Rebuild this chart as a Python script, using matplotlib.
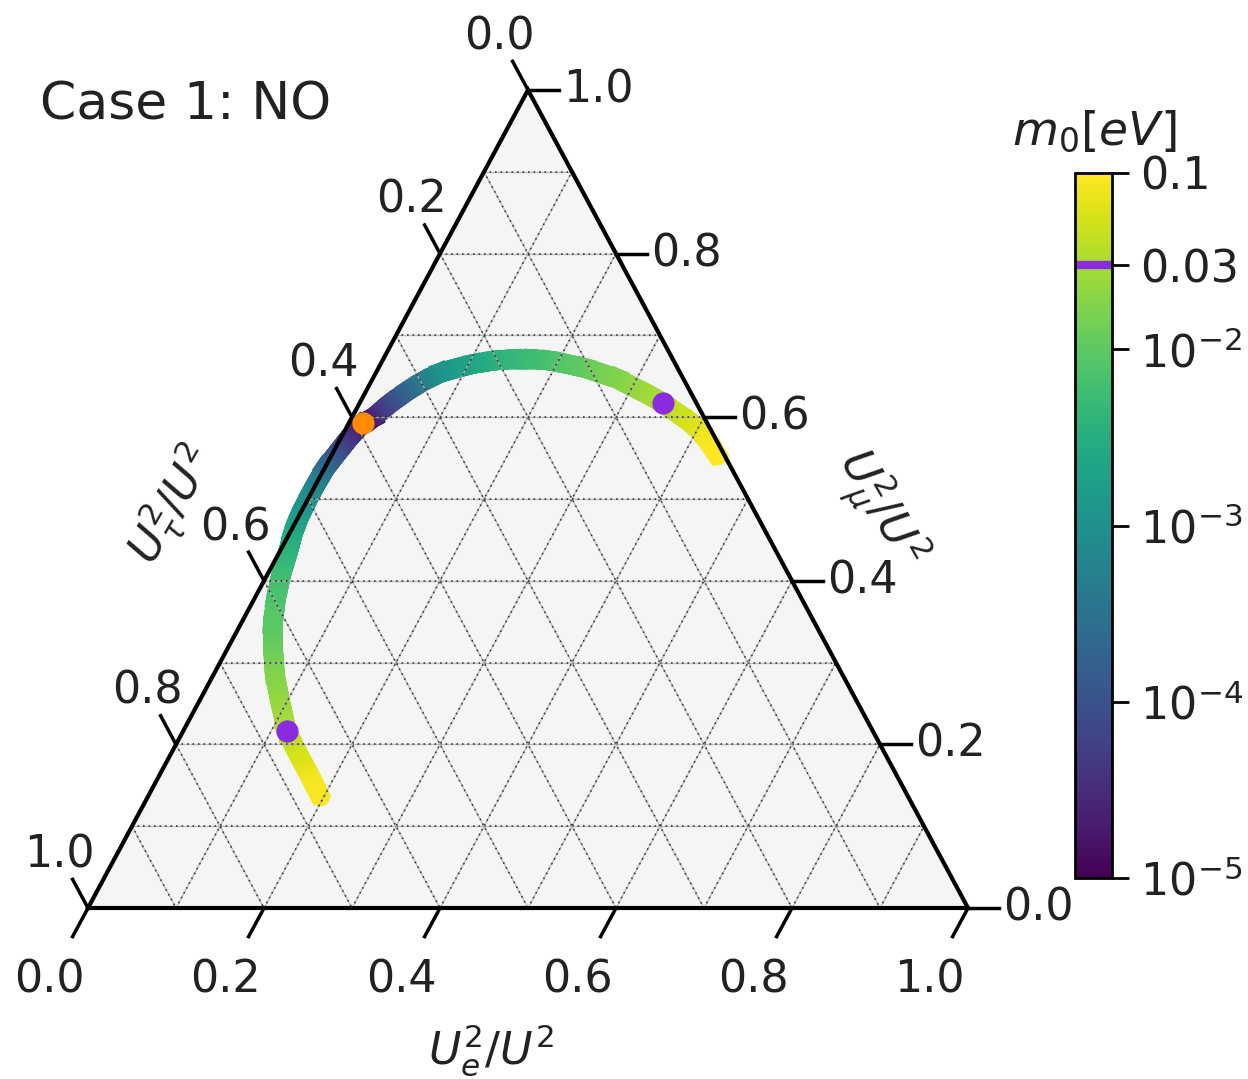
import numpy as np
import matplotlib
matplotlib.use("Agg")
import matplotlib.pyplot as plt
from matplotlib.collections import LineCollection
from matplotlib.colors import LogNorm
import matplotlib as mpl

# ---------------- data (ternary fractions U_e^2/U^2, U_mu^2/U^2; tau = 1 - e - mu) ----------------
branch_a_e = [0.016, 0.024, 0.035, 0.047, 0.059, 0.073, 0.089, 0.105, 0.126, 0.147, 0.170, 0.191,
              0.212, 0.235, 0.255, 0.278, 0.301, 0.322, 0.345, 0.369, 0.387, 0.405, 0.420, 0.439]
branch_a_mu = [0.593, 0.599, 0.617, 0.632, 0.644, 0.654, 0.660, 0.665, 0.669, 0.671, 0.671, 0.669,
               0.665, 0.660, 0.654, 0.647, 0.637, 0.628, 0.617, 0.604, 0.594, 0.582, 0.570, 0.553]
branch_a_m0 = [1e-5, 1.3e-5, 5e-5, 1.3e-4, 3.2e-4, 8e-4, 1.3e-3, 2e-3, 2.8e-3, 4e-3, 5e-3, 6.3e-3,
               8e-3, 1e-2, 1.25e-2, 1.6e-2, 2e-2, 2.5e-2, 3e-2, 4e-2, 5e-2, 6.3e-2, 8e-2, 0.1]

branch_b_e = [0.016, 0.010, 0.005, 0.001, 0.000, 0.000, 0.001, 0.004, 0.009, 0.016, 0.025, 0.037,
              0.053, 0.070, 0.091, 0.118, 0.142, 0.168, 0.196]
branch_b_mu = [0.593, 0.576, 0.556, 0.538, 0.518, 0.499, 0.478, 0.458, 0.438, 0.407, 0.377, 0.346,
               0.315, 0.285, 0.254, 0.216, 0.191, 0.165, 0.136]
branch_b_m0 = [1e-5, 2.5e-5, 6.3e-5, 1.6e-4, 4e-4, 8e-4, 1.3e-3, 2e-3, 3.2e-3, 5e-3, 7e-3, 9e-3,
               1.1e-2, 1.6e-2, 2.1e-2, 3e-2, 4.5e-2, 6.6e-2, 0.1]

# marked points
mark_m0_value = 0.03
mark_e = [0.345, 0.118]
mark_mu = [0.617, 0.216]
zero_e = [0.016]
zero_mu = [0.593]

tick_values = [0.0, 0.2, 0.4, 0.6, 0.8, 1.0]
grid_values = [0.1, 0.2, 0.3, 0.4, 0.5, 0.6, 0.7, 0.8, 0.9]
cbar_ticks = [1e-5, 1e-4, 1e-3, 1e-2, 0.03, 0.1]
cbar_ticklabels = ["$10^{-5}$", "$10^{-4}$", "$10^{-3}$", "$10^{-2}$", "0.03", "0.1"]
m0_min, m0_max = 1e-5, 0.1

title = "Case 1: NO"
bottom_label = "$U_e^2/U^2$"
right_label = r"$U_\mu^2/U^2$"
left_label = r"$U_\tau^2/U^2$"
cbar_label = "$m_0[eV]$"

# ---------------- helpers ----------------
S3 = np.sqrt(3) / 2


def proj(e, mu):
    e = np.asarray(e, dtype=float)
    mu = np.asarray(mu, dtype=float)
    return e + mu / 2.0, mu * S3


W, H = 1248, 1079
fig = plt.figure(figsize=(W / 100, H / 100), dpi=100)
ax = fig.add_axes([88 / W, (H - 908) / H, 880 / W, 818 / H])
ax.set_xlim(0, 1)
ax.set_ylim(0, S3)
ax.axis("off")

FS = 32
TXT = "#222222"

# background
bx, by = proj([0, 1, 0], [0, 0, 1])
ax.fill(bx, by, color="whitesmoke", zorder=0)

# curve branches (each polyline segment drawn as a short colour gradient)
norm = LogNorm(vmin=m0_min, vmax=m0_max)
cmap = plt.get_cmap("viridis")
NSUB = 6
for be, bmu, bm in [(branch_a_e, branch_a_mu, branch_a_m0), (branch_b_e, branch_b_mu, branch_b_m0)]:
    x, y = proj(be, bmu)
    lm = np.log10(np.asarray(bm))
    segs, cvals = [], []
    for i in range(len(x) - 1):
        t = np.linspace(0, 1, NSUB + 1)
        sx = x[i] + (x[i + 1] - x[i]) * t
        sy = y[i] + (y[i + 1] - y[i]) * t
        sl = lm[i] + (lm[i + 1] - lm[i]) * t
        for k in range(NSUB):
            segs.append([(sx[k], sy[k]), (sx[k + 1], sy[k + 1])])
            cvals.append(10 ** (0.5 * (sl[k] + sl[k + 1])))
    cvals = np.asarray(cvals)
    # end pieces with round caps
    lc_end = LineCollection([segs[0], segs[-1]], cmap=cmap, norm=norm, linewidths=14,
                            capstyle="round", zorder=2)
    lc_end.set_array(cvals[[0, -1]])
    ax.add_collection(lc_end)
    lc = LineCollection(segs[1:-1], cmap=cmap, norm=norm, linewidths=14, capstyle="projecting",
                        joinstyle="round", zorder=2)
    lc.set_array(cvals[1:-1])
    ax.add_collection(lc)

# grid lines
for g in grid_values:
    lines = [
        proj([0, 1 - g], [g, g]),          # constant mu (horizontal)
        proj([g, g], [0, 1 - g]),          # constant e
        proj([0, 1 - g], [1 - g, 0]),      # constant tau
    ]
    for lx, ly in lines:
        ax.plot(lx, ly, color="#b0b0b0", lw=1.0, alpha=0.8, zorder=3)
        ax.plot(lx, ly, color="black", lw=1.2, dashes=(1, 2.3), alpha=0.7, zorder=3)

# boundary
bx2, by2 = proj([0, 1, 0, 0], [0, 0, 1, 0])
ax.plot(bx2, by2, color="black", lw=3.0, zorder=4, solid_joinstyle="miter", clip_on=False)

# ticks and labels
d_tick = 0.035
for v in tick_values:
    # bottom axis (e)
    x0, y0 = proj(v, 0)
    x1, y1 = proj(v, -d_tick)
    ax.plot([x0, x1], [y0, y1], color="black", lw=2.5, clip_on=False, zorder=4)
    xl, yl = proj(v, -0.088)
    ax.text(xl, yl, f"{v:.1f}", fontsize=FS, ha="center", va="center", color=TXT, clip_on=False)
    # right axis (mu)
    x0, y0 = proj(1 - v, v)
    x1, y1 = proj(1 - v + d_tick, v)
    ax.plot([x0, x1], [y0, y1], color="black", lw=2.5, clip_on=False, zorder=4)
    xl, yl = proj(1 - v + 0.08, v)
    ax.text(xl, yl, f"{v:.1f}", fontsize=FS, ha="center", va="center", color=TXT, clip_on=False)
    # left axis (tau)
    x0, y0 = proj(0, 1 - v)
    x1, y1 = proj(-d_tick, 1 - v + d_tick)
    ax.plot([x0, x1], [y0, y1], color="black", lw=2.5, clip_on=False, zorder=4)
    xl, yl = proj(-0.065, 1 - v + 0.065)
    ax.text(xl, yl, f"{v:.1f}", fontsize=FS, ha="center", va="center", color=TXT, clip_on=False)

# marked points
mx, my = proj(mark_e, mark_mu)
ax.plot(mx, my, "o", color="blueviolet", ms=16, mec="none", zorder=6, clip_on=False)
zx, zy = proj(zero_e, zero_mu)
ax.plot(zx, zy, "o", color="darkorange", ms=16, mec="none", zorder=6, clip_on=False)

# axis labels and title
fig.text(491 / W, 1 - 1050 / H, bottom_label, fontsize=FS, ha="center", va="center", color=TXT)
fig.text(172 / W, 1 - 505 / H, left_label, fontsize=FS, ha="center", va="center", rotation=60, color=TXT)
fig.text(878 / W, 1 - 510 / H, right_label, fontsize=FS, ha="center", va="center", rotation=-60, color=TXT)
fig.text(40 / W, 1 - 105 / H, title, fontsize=37.5, ha="left", va="center", color=TXT)

# colorbar
cax = fig.add_axes([1075 / W, (H - 878) / H, 37 / W, 705 / H])
cb = mpl.colorbar.ColorbarBase(cax, cmap=cmap, norm=norm, orientation="vertical")
cb.set_ticks(cbar_ticks)
cb.set_ticklabels(cbar_ticklabels)
cb.minorticks_off()
cax.tick_params(labelsize=FS, length=12, width=2, pad=8, labelcolor=TXT)
cax.axhline(mark_m0_value, color="blueviolet", lw=6)
cb.outline.set_linewidth(2)
fig.text(1094 / W, 1 - 132 / H, cbar_label, fontsize=34, ha="center", va="center", color=TXT)

fig.savefig("out.png", dpi=100)
